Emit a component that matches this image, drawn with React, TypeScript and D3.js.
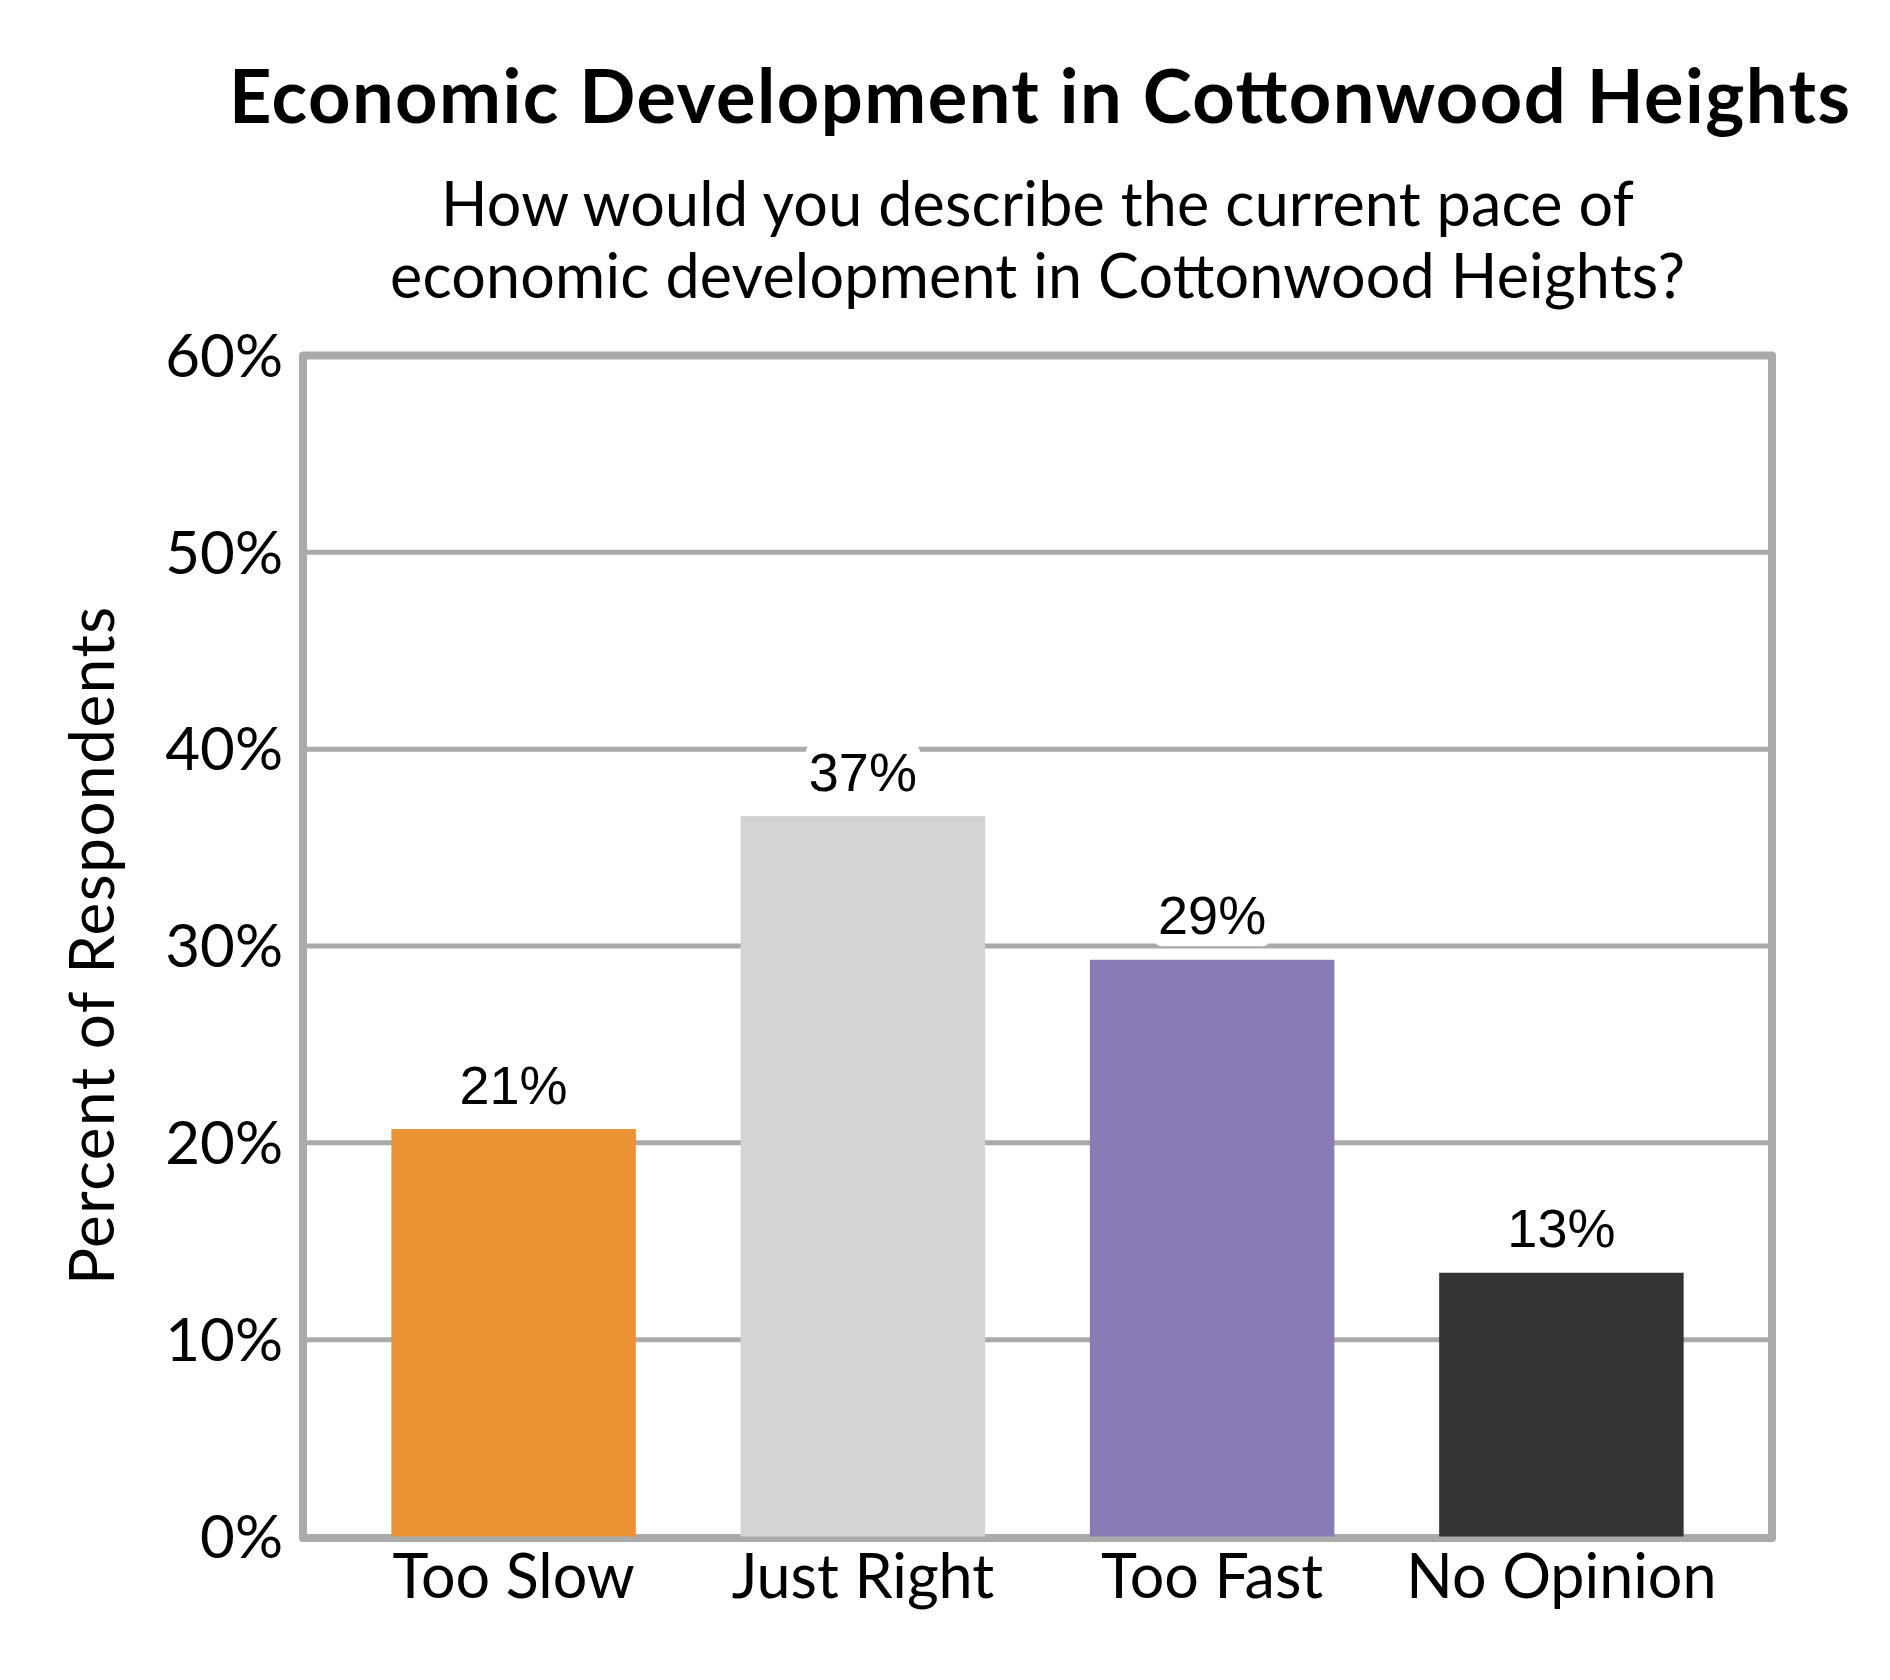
import * as d3 from "d3";
import React from "react";

const categories = ["Too Slow", "Just Right", "Too Fast", "No Opinion"];
const values = [20.7, 36.6, 29.3, 13.4];
const valueLabels = ["21%", "37%", "29%", "13%"];
const barColors = ["#EB9234", "#D4D4D4", "#8A7BB6", "#333333"];
const yTicks = [0, 10, 20, 30, 40, 50, 60];
const titleText = "Economic Development in Cottonwood Heights";
const subtitleLines = [
  "How would you describe the current pace of",
  "economic development in Cottonwood Heights?",
];
const subtitleWidths = [1193, 1295];
const yAxisTitle = "Percent of Respondents";

const W = 1890;
const H = 1680;
const m = { l: 303, r: 1772, t: 355.5, b: 1536.5 };
const gridColor = "#AAAAAA";
const uiFont = "Lato, 'Open Sans', sans-serif";
const labelFont = "'Liberation Sans', Arial, sans-serif";

const App: React.FC = () => {
  const x = d3.scaleBand(categories, [m.l, m.r]).paddingInner(0.3).paddingOuter(0.253);
  const y = d3.scaleLinear([0, 60], [m.b, m.t]);
  const cx = (m.l + m.r) / 2;
  const labelSize = 54;

  return (
    <svg width={W} height={H} style={{ position: "absolute", left: 0, top: 0, background: "#fff" }}>
      <rect width={W} height={H} fill="#fff" />

      <text x={cx + 2} y={122.7} textAnchor="middle" fontFamily={uiFont} fontWeight="bold" fontSize={74}
        textLength={1621} lengthAdjust="spacing" fill="#000">
        {titleText}
      </text>
      {subtitleLines.map((s, i) => (
        <text key={s} x={cx} y={226 + i * 72} textAnchor="middle" fontFamily={uiFont} fontSize={61}
          textLength={subtitleWidths[i]} lengthAdjust="spacing" fill="#000">
          {s}
        </text>
      ))}

      {/* grid */}
      {yTicks.filter(t => t > 0 && t < 60).map(t => (
        <line key={t} x1={m.l} x2={m.r} y1={y(t)} y2={y(t)} stroke={gridColor} strokeWidth={5} />
      ))}
      <rect x={m.l} y={m.t} width={m.r - m.l} height={m.b - m.t + 1.5} fill="none" stroke={gridColor} strokeWidth={8} strokeLinejoin="round" />

      {/* y ticks */}
      {yTicks.map(t => (
        <text key={t} x={283} y={y(t) + 21.3} textAnchor="end" fontFamily={uiFont} fontSize={60} fill="#000">
          {t}%
        </text>
      ))}
      <text transform={`translate(114, ${(m.t + m.b) / 2}) rotate(-90)`} textAnchor="middle" fontFamily={uiFont} fontSize={62}
        textLength={678} lengthAdjust="spacing" fill="#000">
        {yAxisTitle}
      </text>

      {/* bars */}
      {categories.map((c, i) => (
        <rect key={c} x={x(c)} y={y(values[i])} width={x.bandwidth()} height={y(0) - y(values[i])} fill={barColors[i]} />
      ))}

      {/* value labels */}
      {categories.map((c, i) => {
        const tx = (x(c) ?? 0) + x.bandwidth() / 2;
        const base = y(values[i]) - 25.5;
        const w = 2.0 * labelSize + 6;
        return (
          <g key={c}>
            <rect x={tx - w / 2} y={base - 45} width={w} height={57} rx={6} fill="#fff" />
            <text x={tx} y={base} textAnchor="middle" fontFamily={labelFont} fontSize={labelSize} fill="#000">
              {valueLabels[i]}
            </text>
          </g>
        );
      })}

      {/* x labels */}
      {categories.map(c => (
        <text key={c} x={(x(c) ?? 0) + x.bandwidth() / 2} y={1598} textAnchor="middle" fontFamily={uiFont} fontSize={61} fill="#000">
          {c}
        </text>
      ))}
    </svg>
  );
};

export default App;
